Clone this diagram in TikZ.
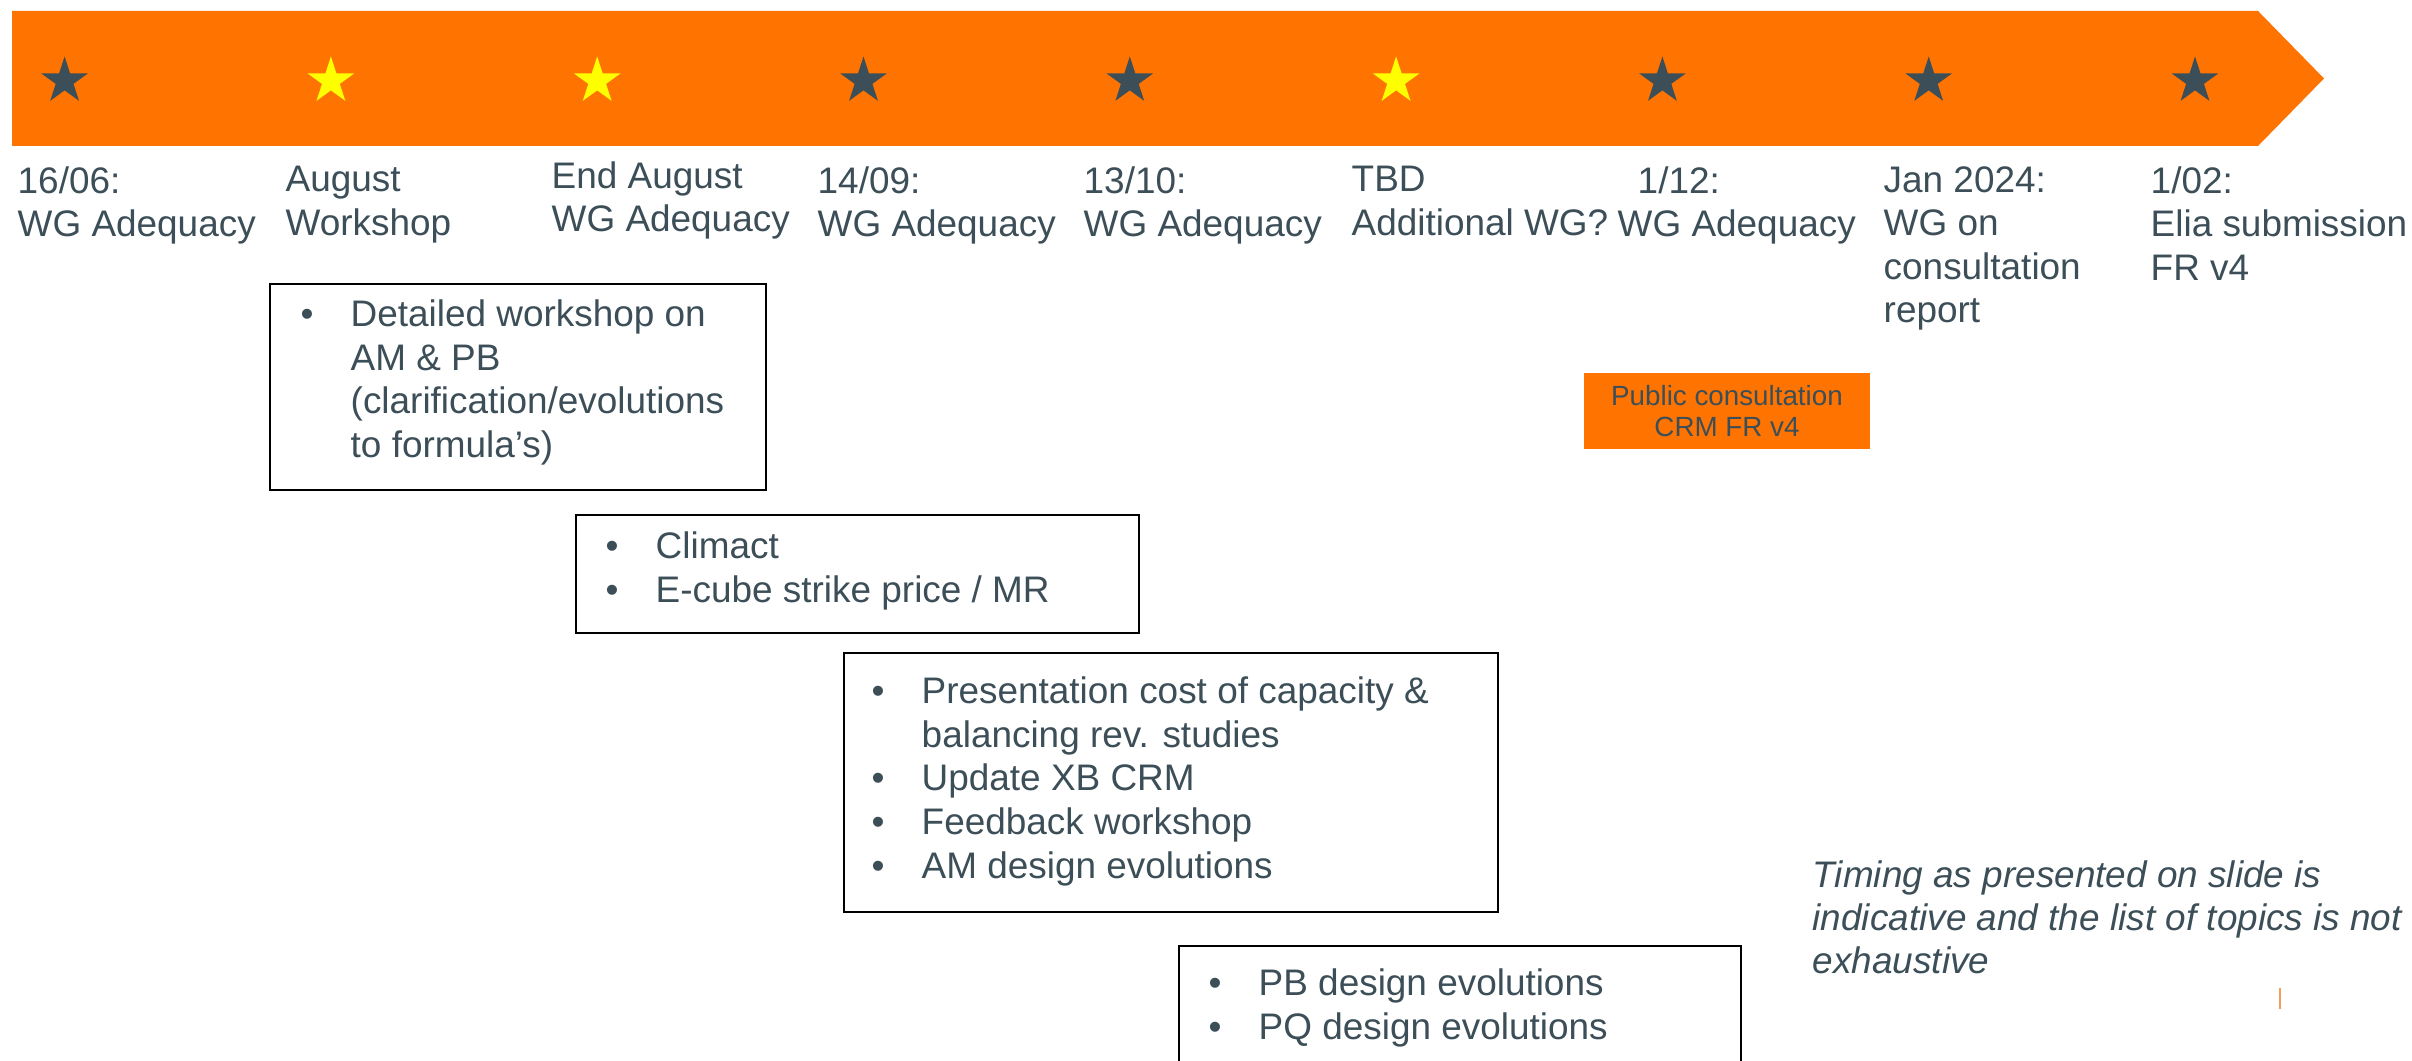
\documentclass[tikz,border=0pt]{standalone}
\usepackage{fontspec}
\setmainfont{Liberation Sans}
\usetikzlibrary{shapes.geometric}
\definecolor{banner}{RGB}{255,116,0}
\definecolor{ink}{RGB}{60,78,87}
\definecolor{gold}{RGB}{255,255,0}
\definecolor{tickmark}{RGB}{242,160,90}
% bullet with a fixed hanging indent, and the matching indent for wrapped lines
\newcommand{\bl}{\makebox[0.5cm][l]{\textbullet}}
\newcommand{\ind}{\hspace*{0.5cm}}
\begin{document}
\begin{tikzpicture}[x=0.01cm,y=-0.01cm,
  starnode/.style={star,star points=5,star point ratio=2.618,minimum size=0.49cm,
    inner sep=0pt,outer sep=0pt,draw=none},
  datelabel/.style={anchor=north west,inner sep=0pt,align=left,text=ink,
    font=\fontsize{10.5}{12.38}\selectfont},
  topicbox/.style={draw=black,line width=0.45pt,anchor=north west,inner sep=0pt,fill=none},
  topics/.style={anchor=north west,inner sep=0pt,align=left,text=ink,
    font=\fontsize{10.5}{12.5}\selectfont},
  notebox/.style={fill=banner,inner sep=0pt,align=center,text=ink,
    font=\fontsize{7.9}{8.8}\selectfont},
]
\clip (0,0) rectangle (2412,1061);
\fill[white] (0,0) rectangle (2412,1061);

% timeline arrow
\fill[banner] (12,11) -- (2258,11) -- (2324,78.5) -- (2258,146) -- (12,146) -- cycle;

% milestone stars
\foreach \i/\c in {0/ink,1/gold,2/gold,3/ink,4/ink,5/gold,6/ink,7/ink,8/ink}{
  \node[starnode,fill=\c] (star\i) at ({64.6+266.3*\i},81) {};
}

% milestone labels
\node[datelabel] (d1) at (17,165.6)   {16/06:\\WG Adequacy};
\node[datelabel] (d2) at (285,165.6)  {August\\Workshop};
\node[datelabel] (d3) at (551,160.6)  {End August\\WG Adequacy};
\node[datelabel] (d4) at (817,165.6)  {14/09:\\WG Adequacy};
\node[datelabel] (d5) at (1083,165.6) {13/10:\\WG Adequacy};
\node[datelabel] (d6) at (1351,165.6) {TBD\\Additional WG?};
\node[datelabel] (d7) at (1617,165.6) {\hspace*{0.2cm}1/12:\\WG Adequacy};
\node[datelabel] (d8) at (1883,165.6) {Jan 2024:\\WG on\\consultation\\report};
\node[datelabel] (d9) at (2150,165.6) {1/02:\\Elia submission\\FR v4};

% topic boxes
\node[topicbox,minimum width=4.96cm,minimum height=2.06cm] (boxA) at (269,283) {};
\node[topics] (topA) at (300,298.6)
  {\bl Detailed workshop on\\\ind AM \& PB\\\ind (clarification/evolutions\\\ind to formula’s)};

\node[topicbox,minimum width=5.63cm,minimum height=1.18cm] (boxB) at (575,514) {};
\node[topics] (topB) at (605,530.6)
  {\bl Climact\\\bl E-cube strike price / MR};

\node[topicbox,minimum width=6.54cm,minimum height=2.59cm] (boxC) at (843,652) {};
\node[topics] (topC) at (871,675.6)
  {\bl Presentation cost of capacity \&\\\ind balancing rev. studies\\\bl Update XB CRM\\\bl Feedback workshop\\\bl AM design evolutions};

\node[topicbox,minimum width=5.62cm,minimum height=1.4cm] (boxD) at (1178,945) {};
\node[topics] (topD) at (1208,967.6)
  {\bl PB design evolutions\\\bl PQ design evolutions};

% consultation tag
\node[notebox,minimum width=2.86cm,minimum height=0.76cm] (consult) at (1727,411)
  {Public consultation\\CRM FR v4};

% footnote
\node[datelabel,font=\fontsize{10.5}{12.3}\selectfont\itshape] (note) at (1812,859.6)
  {Timing as presented on slide is\\indicative and the list of topics is not\\exhaustive};

\draw[tickmark,line width=0.6pt] (2280,988) -- (2280,1009);
\end{tikzpicture}
\end{document}
